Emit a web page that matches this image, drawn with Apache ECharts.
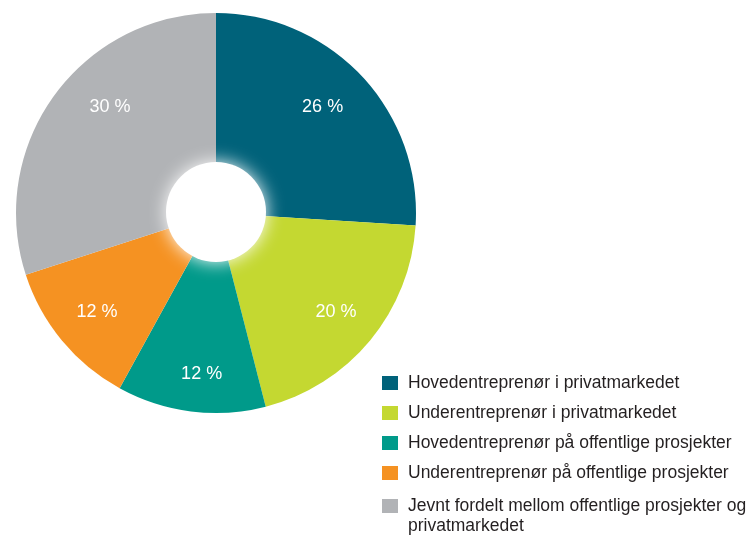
<!DOCTYPE html>
<html><head><meta charset="utf-8">
<script src="https://cdn.jsdelivr.net/npm/echarts@6/dist/echarts.min.js"></script>
<style>html,body{margin:0;padding:0;background:#fff}#c{width:753px;height:536px}</style>
</head><body><div id="c"></div>
<script>
const categories = [
  'Hovedentreprenør i privatmarkedet',
  'Underentreprenør i privatmarkedet',
  'Hovedentreprenør på offentlige prosjekter',
  'Underentreprenør på offentlige prosjekter',
  'Jevnt fordelt mellom offentlige prosjekter og privatmarkedet'
];
const values = [26, 20, 12, 12, 30];
const colors = ['#00627a', '#c4d831', '#009a8a', '#f59222', '#b1b3b6'];

const chart = echarts.init(document.getElementById('c'), null, {renderer: 'canvas'});
const data = categories.map((n, i) => ({name: n, value: values[i], itemStyle: {color: colors[i]}}));
const font = 'Liberation Sans, Arial, Helvetica, sans-serif';
const labelNudge = [[-6, 0], [1, 1], [5, 8], [0, 1], [19, -15]];
const legendBase = {
  orient: 'vertical', left: 382, padding: 0,
  itemWidth: 16, itemHeight: 14, itemGap: 10, icon: 'rect',
  width: 371, height: 300,
  textStyle: {fontFamily: font, fontSize: 17.5, color: '#231f20', lineHeight: 20, padding: [0, 0, 0, 5]}
};
chart.setOption({
  animation: false,
  legend: [
    Object.assign({}, legendBase, {top: 373, data: categories.slice(0, 4)}),
    Object.assign({}, legendBase, {
      top: 476,
      formatter: () => ' \nJevnt fordelt mellom offentlige prosjekter og\nprivatmarkedet',
      data: [categories[4]]
    })
  ],
  series: [
    {
      type: 'pie', center: [216, 213], radius: [0, 200], startAngle: 90, clockwise: true,
      data: data, label: {show: false}, labelLine: {show: false}, silent: true, z: 1
    },
    {
      type: 'pie', center: [216, 213], radius: [103, 200], startAngle: 90, clockwise: true,
      data: categories.map((n, i) => ({name: n, value: values[i], itemStyle: {color: 'transparent'}})),
      label: {show: true, position: 'inside', color: '#fff', fontFamily: font, fontSize: 18, formatter: p => p.value + ' %'},
      labelLayout: p => ({dx: labelNudge[p.dataIndex][0], dy: labelNudge[p.dataIndex][1]}),
      labelLine: {show: false}, silent: true, z: 3
    },
    {
      type: 'pie', center: [216, 212], radius: [0, 50], silent: true, z: 2,
      data: [{name: '_hole', value: 1, itemStyle: {color: '#fff', shadowBlur: 18, shadowColor: 'rgba(255,255,255,1)'}}],
      label: {show: false}, labelLine: {show: false}
    }
  ]
});
</script></body></html>
